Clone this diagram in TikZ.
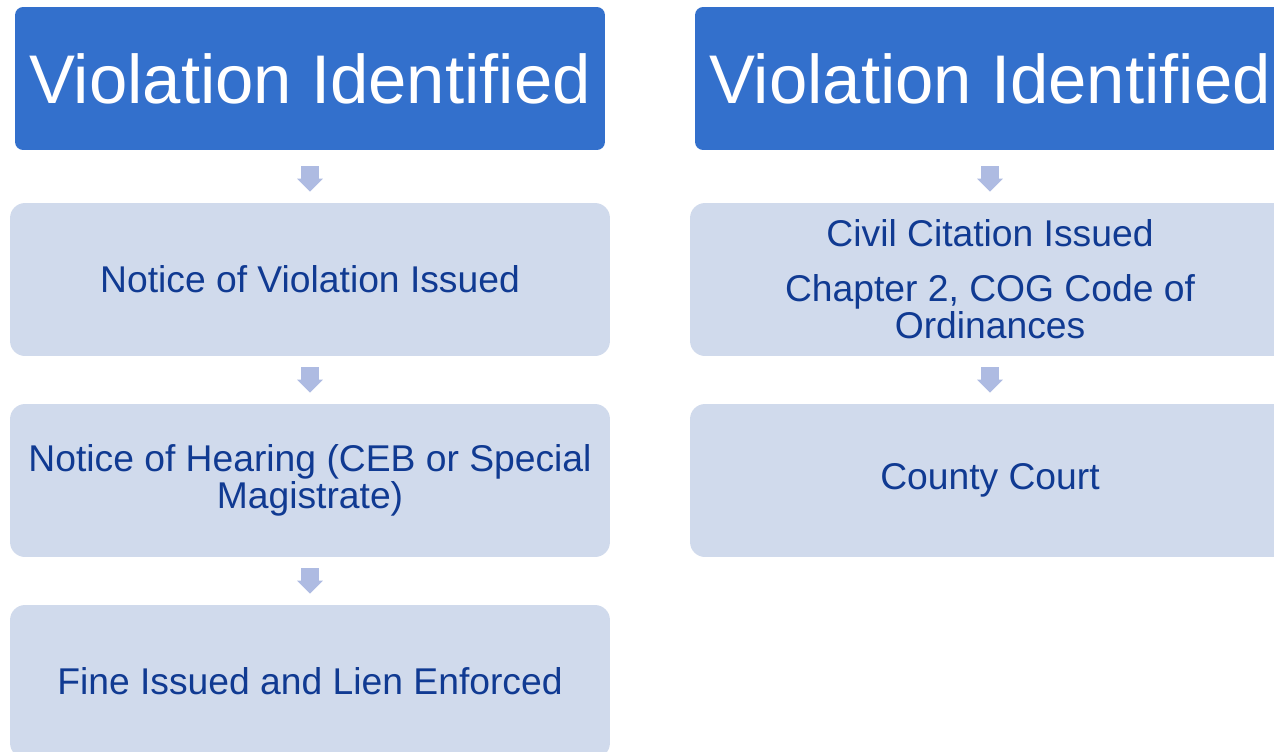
\documentclass[tikz,border=0pt]{standalone}
\usepackage{fontspec}
\setmainfont{Liberation Sans}
\usetikzlibrary{arrows.meta}

\definecolor{headblue}{RGB}{51,112,204}
\definecolor{stepfill}{RGB}{208,218,236}
\definecolor{steptext}{RGB}{16,58,146}
\definecolor{arrowblue}{RGB}{174,187,226}

\tikzset{
  headbox/.style={fill=headblue, text=white, rounded corners=0.16cm,
    minimum width=11.8cm, minimum height=2.86cm, inner sep=0pt,
    font=\fontsize{39.2pt}{40pt}\selectfont},
  stepbox/.style={fill=stepfill, text=steptext, rounded corners=0.3cm,
    minimum width=12cm, minimum height=3.06cm, inner sep=0pt, align=center,
    font=\fontsize{21.2pt}{21.4pt}\selectfont},
  blockarrow/.style={draw=arrowblue, line width=0.36cm,
    -{Triangle[width=0.5cm, length=0.26cm]}, shorten <=0.22cm, shorten >=0.22cm}
}

\begin{document}
\begin{tikzpicture}[x=0.02cm, y=-0.02cm]
\clip (0,0) rectangle (1274,751);
\fill[white] (0,0) rectangle (1274,751);

% left column
\node[headbox] (lhead) at (310,78.5) {Violation Identified};
\node[stepbox] (lnov) at (310,279.5) {Notice of Violation Issued};
\node[stepbox] (lhear) at (310,480.5) {Notice of Hearing (CEB or Special\\Magistrate)};
\node[stepbox] (lfine) at (310,681.5) {Fine Issued and Lien Enforced};

% right column
\node[headbox] (rhead) at (990,78.5) {Violation Identified};
\node[stepbox] (rcit) at (990,279.5) {Civil Citation Issued\\[9.7pt]Chapter 2, COG Code of\\Ordinances};
\node[stepbox] (rcourt) at (990,480.5) {County Court};

\draw[blockarrow, shorten <=0.32cm] (lhead.south) -- (lnov.north);
\draw[blockarrow] (lnov.south) -- (lhear.north);
\draw[blockarrow] (lhear.south) -- (lfine.north);
\draw[blockarrow, shorten <=0.32cm] (rhead.south) -- (rcit.north);
\draw[blockarrow] (rcit.south) -- (rcourt.north);
\end{tikzpicture}
\end{document}
